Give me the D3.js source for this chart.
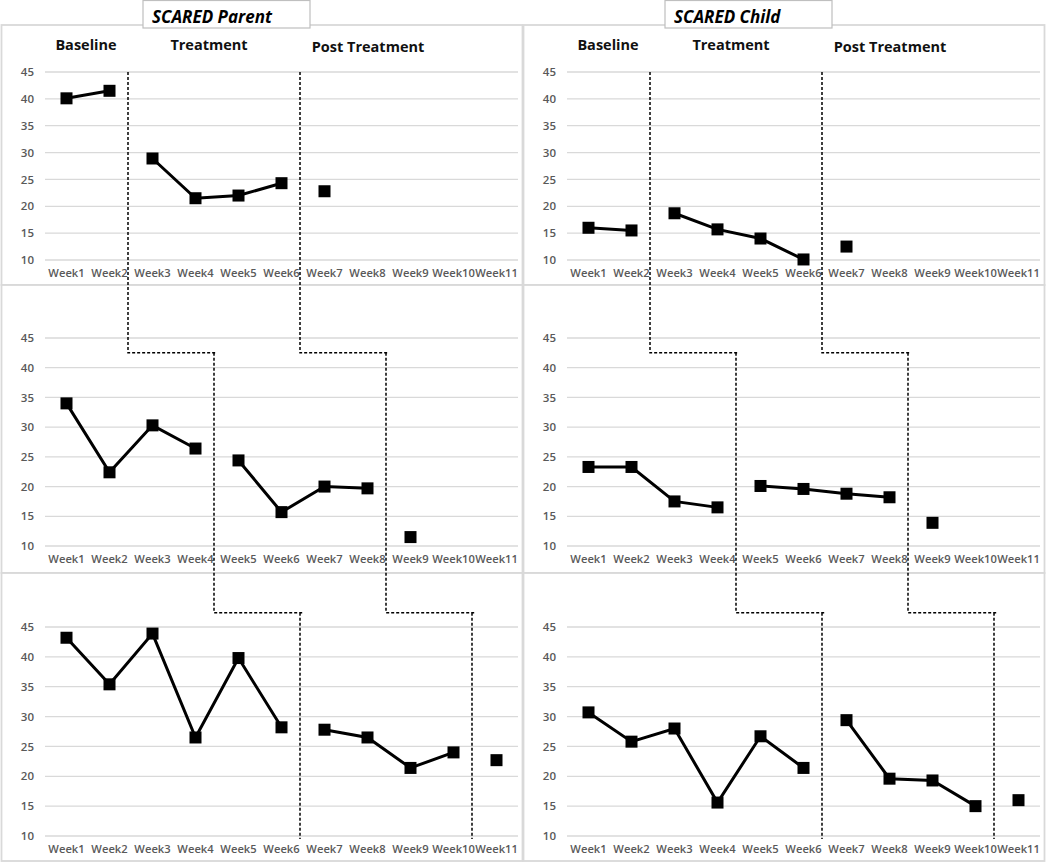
<!DOCTYPE html>
<html>
<head>
<meta charset="utf-8">
<script src="https://cdn.jsdelivr.net/npm/d3@7/dist/d3.min.js"></script>
<style>
  html, body { margin: 0; padding: 0; background: #fff; }
  svg { display: block; }
</style>
</head>
<body>
<div id="chart"></div>
<script>
// ---------- data ----------
const weeks = ["Week1","Week2","Week3","Week4","Week5","Week6","Week7","Week8","Week9","Week10","Week11"];
const yTicks = [10, 15, 20, 25, 30, 35, 40, 45];
const columnTitles = ["SCARED Parent", "SCARED Child"];
const phaseNames = ["Baseline", "Treatment", "Post Treatment"];

// phase breaks (after week n) for each participant row
const phaseBreaks = [[2, 6], [4, 8], [6, 10]];

// SCARED Parent, participants 1-3 (null = no measurement)
const parent1 = [40.1, 41.5, 28.9, 21.5, 22.0, 24.3, 22.8, null, null, null, null];
const parent2 = [34.0, 22.4, 30.3, 26.4, 24.4, 15.7, 20.0, 19.7, 11.5, null, null];
const parent3 = [43.2, 35.4, 43.9, 26.5, 39.8, 28.2, 27.8, 26.5, 21.4, 24.0, 22.7];
// SCARED Child, participants 1-3
const child1 = [16.0, 15.5, 18.7, 15.7, 14.0, 10.1, 12.5, null, null, null, null];
const child2 = [23.3, 23.3, 17.5, 16.5, 20.1, 19.6, 18.8, 18.2, 13.9, null, null];
const child3 = [30.7, 25.8, 28.0, 15.6, 26.7, 21.4, 29.4, 19.6, 19.3, 15.0, 16.0];

const series = [[parent1, child1], [parent2, child2], [parent3, child3]];

// ---------- layout ----------
const W = 1046, H = 863;
const colOffsets = [0, 522];
const rows = [
  { top: 25,  bottom: 285, y45: 72,  y10: 260, labelY: 276 },
  { top: 285, bottom: 573, y45: 338, y10: 546, labelY: 562 },
  { top: 573, bottom: 861, y45: 627, y10: 836, labelY: 852 }
];
const plotX0 = 45, plotX1 = 518;

const svg = d3.select("#chart").append("svg")
  .attr("width", W).attr("height", H)
  .style("font-family", "'Open Sans', 'Noto Sans', sans-serif");

const x = d3.scaleBand().domain(weeks).range([plotX0, plotX1]).padding(0);
const yScales = rows.map(r => d3.scaleLinear().domain([10, 45]).range([r.y10, r.y45]));

// panel borders
colOffsets.forEach(off => {
  rows.forEach(r => {
    svg.append("rect")
      .attr("x", off + 1.5).attr("y", r.top)
      .attr("width", 521).attr("height", r.bottom - r.top)
      .attr("fill", "#fff").attr("stroke", "#d9d9d9").attr("stroke-width", 1.8);
  });
});

colOffsets.forEach((off, ci) => {
  rows.forEach((r, ri) => {
    const y = yScales[ri];
    const g = svg.append("g").attr("transform", `translate(${off},0)`);

    // gridlines
    g.append("g").selectAll("line").data(yTicks).join("line")
      .attr("x1", plotX0).attr("x2", plotX1)
      .attr("y1", d => y(d)).attr("y2", d => y(d))
      .attr("stroke", "#d9d9d9").attr("stroke-width", 1.3);

    // y axis labels
    const yAxis = d3.axisLeft(y).tickValues(yTicks).tickSize(0).tickPadding(0);
    const ya = g.append("g").attr("transform", `translate(34,0)`).call(yAxis);
    ya.select(".domain").remove();
    ya.selectAll("text")
      .attr("fill", "#595959").style("font-size", "11.5px").style("font-weight", 600)
      .style("font-family", "'Open Sans', sans-serif");

    // x axis labels
    const xAxis = d3.axisBottom(x).tickSize(0).tickPadding(0);
    const xa = g.append("g").attr("transform", `translate(0,${r.labelY - 7})`).call(xAxis);
    xa.select(".domain").remove();
    xa.selectAll("text")
      .attr("fill", "#595959").style("font-size", "11.2px").style("font-weight", 600)
      .style("font-family", "'Open Sans', sans-serif");

    // lines by phase segment
    const vals = series[ri][ci];
    const br = phaseBreaks[ri];
    const segs = [[0, br[0]], [br[0], br[1]], [br[1], weeks.length]];
    const line = d3.line()
      .defined(d => d.v != null)
      .x(d => x(d.w) + x.bandwidth() / 2)
      .y(d => y(d.v));
    segs.forEach(([a, b]) => {
      const pts = weeks.slice(a, b).map((w, i) => ({ w, v: vals[a + i] }));
      g.append("path").datum(pts)
        .attr("d", line).attr("fill", "none")
        .attr("stroke", "#000").attr("stroke-width", 3).attr("stroke-linejoin", "miter");
    });
    const pts = weeks.map((w, i) => ({ w, v: vals[i] })).filter(d => d.v != null);
    g.append("g").selectAll("rect").data(pts).join("rect")
      .attr("x", d => x(d.w) + x.bandwidth() / 2 - 6)
      .attr("y", d => y(d.v) - 6)
      .attr("width", 12).attr("height", 12)
      .attr("fill", "#000");
  });

  // phase labels (top row)
  const t = svg.append("g").attr("transform", `translate(${off},0)`);
  const phaseCenters = [x("Week1") + x.bandwidth(), (x("Week3") + x("Week6") + x.bandwidth()) / 2, 368];
  const phaseYs = [46, 46, 48];
  phaseNames.forEach((p, i) => {
    t.append("text").text(p)
      .attr("x", i === 2 ? phaseCenters[2] : phaseCenters[i] - (i === 0 ? 2 : 8))
      .attr("y", phaseYs[i])
      .attr("text-anchor", "middle").attr("dominant-baseline", "middle")
      .style("font-size", "14.5px").style("font-weight", 700).attr("fill", "#111");
  });

  // title box
  const boxX = off + 143;
  svg.append("rect").attr("x", boxX).attr("y", 0.5).attr("width", 167).attr("height", 27.5)
    .attr("fill", "#fff").attr("stroke", "#bfbfbf").attr("stroke-width", 1.2);
  svg.append("text").text(columnTitles[ci])
    .attr("x", boxX + 9).attr("y", 23)
    .style("font-size", "17px").style("font-weight", 700).style("font-style", "italic")
    .attr("fill", "#000");

  // dashed phase change lines spanning rows
  const bx = n => x(weeks[n - 1]) + x.bandwidth() - 3;
  [0, 1].forEach(k => {
    const xs = phaseBreaks.map(b => off + bx(b[k]));
    const yTop = yScales[0](45);
    const yMid = yScales[1](42.5);
    const yBot = yScales[2](47.4);
    const yEnd = yScales[2](9.5);
    const p = d3.path();
    p.moveTo(xs[0], yTop);
    p.lineTo(xs[0], yMid);
    p.lineTo(xs[1] + 2, yMid);
    p.moveTo(xs[1], yMid);
    p.lineTo(xs[1], yBot);
    p.lineTo(xs[2] + 4, yBot);
    p.moveTo(xs[2], yBot);
    p.lineTo(xs[2], yEnd);
    svg.append("path").attr("d", p.toString())
      .attr("fill", "none").attr("stroke", "#000")
      .attr("stroke-width", 1.5).attr("stroke-dasharray", "3,2");
  });
});
</script>
</body>
</html>
